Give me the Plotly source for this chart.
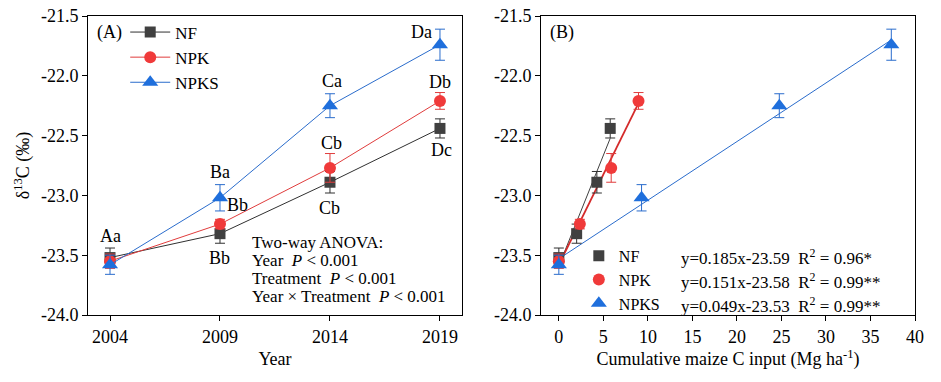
import plotly.graph_objects as go

# ---------------- data ----------------
years = [2004, 2009, 2014, 2019]
nf_d13c = [-23.52, -23.32, -22.89, -22.44]
nf_err = [0.08, 0.08, 0.09, 0.08]
npk_d13c = [-23.55, -23.24, -22.77, -22.21]
npk_err = [0.06, 0.04, 0.12, 0.07]
npks_d13c = [-23.58, -23.02, -22.25, -21.74]
npks_err = [0.08, 0.11, 0.10, 0.13]

nf_cinput = [0.0, 2.0, 4.27, 5.77]
npk_cinput = [0.0, 2.36, 5.88, 8.95]
npks_cinput = [0.0, 9.29, 24.76, 37.34]

fit_slopes = [0.185, 0.151, 0.049]
fit_intercepts = [-23.59, -23.58, -23.53]
fit_labels = ["y=0.185x-23.59  R<sup>2</sup> = 0.96*",
              "y=0.151x-23.58  R<sup>2</sup> = 0.99**",
              "y=0.049x-23.53  R<sup>2</sup> = 0.99**"]

series_names = ["NF", "NPK", "NPKS"]

nf_letters = ["Aa", "Bb", "Cb", "Dc"]
npk_letters = ["", "Bb", "Cb", "Db"]
npks_letters = ["", "Ba", "Ca", "Da"]

y_tickvals = [-24.0, -23.5, -23.0, -22.5, -22.0, -21.5]
y_ticktext = ["-24.0", "-23.5", "-23.0", "-22.5", "-22.0", "-21.5"]
year_ticks = [2004, 2009, 2014, 2019]
cin_ticks = [0, 5, 10, 15, 20, 25, 30, 35, 40]

# ---------------- style ----------------
FONT = "Liberation Serif"
colors = ["#404040", "#f03a3a", "#1f6fdc"]
line_colors = ["#303030", "#e03c3c", "#2a6ccc"]
fit_colors = ["#404040", "#d42a2a", "#2a6ccc"]
fit_widths = [1, 1.8, 1]
symbols = ["square", "circle", "triangle-up"]
msizes = [11, 12, 14]

d13c = [nf_d13c, npk_d13c, npks_d13c]
errs = [nf_err, npk_err, npks_err]
cins = [nf_cinput, npk_cinput, npks_cinput]

fig = go.Figure()

# Panel A
for i in range(3):
    fig.add_trace(go.Scatter(
        x=years, y=d13c[i], name=series_names[i], mode="lines+markers",
        line=dict(color=line_colors[i], width=1),
        marker=dict(symbol=symbols[i], size=msizes[i], color=colors[i]),
        error_y=dict(type="data", array=errs[i], color=line_colors[i], thickness=1, width=5),
        xaxis="x", yaxis="y", legend="legend"))

# Panel B fit lines
for i in range(3):
    xs = [min(cins[i]), max(cins[i])]
    ys = [fit_slopes[i] * v + fit_intercepts[i] for v in xs]
    fig.add_trace(go.Scatter(
        x=xs, y=ys, mode="lines", showlegend=False,
        line=dict(color=fit_colors[i], width=fit_widths[i]),
        xaxis="x2", yaxis="y2"))

# Panel B points
for i in range(3):
    fig.add_trace(go.Scatter(
        x=cins[i], y=d13c[i], name=series_names[i], mode="markers",
        marker=dict(symbol=symbols[i], size=msizes[i], color=colors[i]),
        error_y=dict(type="data", array=errs[i], color=line_colors[i], thickness=1, width=5),
        xaxis="x2", yaxis="y2", legend="legend2"))

annotations = []
# letter labels in panel A
for i, (letters, shifts) in enumerate([
        (nf_letters, [(0, 22), (0, -24), (0, -26), (2, -22)]),
        (npk_letters, [(0, 0), (18, 19), (2, 25), (0, 19)]),
        (npks_letters, [(0, 0), (0, 26), (2, 25), (-18, 13)])]):
    for j, t in enumerate(letters):
        if not t:
            continue
        annotations.append(dict(
            x=years[j], y=d13c[i][j], xref="x", yref="y", text=t, showarrow=False,
            xshift=shifts[j][0], yshift=shifts[j][1],
            font=dict(family=FONT, size=18, color="black")))

annotations.append(dict(x=0.008, y=0.945, xref="paper", yref="paper", text="(A)",
                        showarrow=False, xanchor="left", yanchor="middle",
                        font=dict(family=FONT, size=18, color="black")))
annotations.append(dict(x=0.556, y=0.945, xref="paper", yref="paper", text="(B)",
                        showarrow=False, xanchor="left", yanchor="middle",
                        font=dict(family=FONT, size=18, color="black")))

anova_lines = ["Two-way ANOVA:", "Year  <i>P</i> &lt; 0.001",
               "Treatment  <i>P</i> &lt; 0.001", "Year × Treatment  <i>P</i> &lt; 0.001"]
for k, t in enumerate(anova_lines):
    annotations.append(dict(x=0.196, y=0.242 - k * 0.06, xref="paper", yref="paper",
                            text=t, showarrow=False, xanchor="left", yanchor="middle",
                            font=dict(family=FONT, size=17, color="black")))

for k, t in enumerate(fit_labels):
    annotations.append(dict(x=0.715, y=0.194 - k * 0.0803, xref="paper", yref="paper",
                            text=t, showarrow=False, xanchor="left", yanchor="middle",
                            font=dict(family=FONT, size=17, color="black")))

axis_common = dict(showline=True, linecolor="black", linewidth=1, mirror=True,
                   ticks="outside", ticklen=5, tickcolor="black", showgrid=False,
                   zeroline=False, automargin=False, ticklabeloverflow="allow",
                   tickfont=dict(family=FONT, size=18, color="black"))

fig.update_layout(
    width=941, height=382,
    margin=dict(l=88, r=26, t=16, b=67),
    paper_bgcolor="white", plot_bgcolor="white",
    font=dict(family=FONT, size=18, color="black"),
    xaxis=dict(domain=[0, 0.4522], range=[2003, 2020], tickvals=year_ticks,
               title=dict(text="Year", font=dict(family=FONT, size=18), standoff=6),
               **axis_common),
    yaxis=dict(range=[-24.0, -21.5], tickvals=y_tickvals, ticktext=y_ticktext,
               title=dict(text="δ<sup>13</sup>C (‰)", font=dict(family=FONT, size=18), standoff=6),
               **axis_common),
    xaxis2=dict(domain=[0.5478, 1], range=[-2, 40], tickvals=cin_ticks, anchor="y2",
                title=dict(text="Cumulative maize C input (Mg ha<sup>-1</sup>)",
                           font=dict(family=FONT, size=18), standoff=6),
                **axis_common),
    yaxis2=dict(range=[-24.0, -21.5], tickvals=y_tickvals, ticktext=y_ticktext,
                anchor="x2", **axis_common),
    legend=dict(x=0.045, y=1.005, xanchor="left", yanchor="top",
                bgcolor="rgba(0,0,0,0)", itemwidth=40,
                font=dict(family=FONT, size=17, color="black")),
    legend2=dict(x=0.5935, y=0.255, xanchor="left", yanchor="top",
                 bgcolor="rgba(0,0,0,0)", itemwidth=30,
                 font=dict(family=FONT, size=16, color="black")),
    annotations=annotations,
)

# remove the browser's default 8px body margin so the figure sits at the page origin
fig.write_html("out.html", config={"displayModeBar": False},
               post_script="document.body.style.margin='0px';")
